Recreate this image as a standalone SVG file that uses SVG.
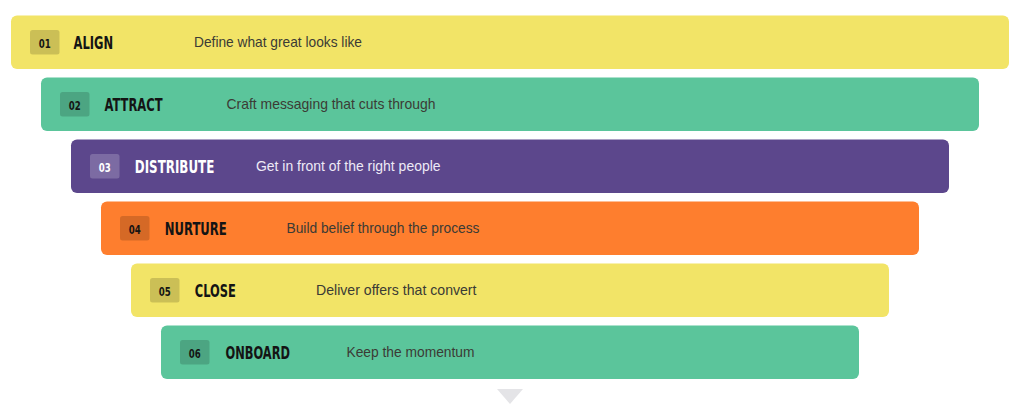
<svg xmlns="http://www.w3.org/2000/svg" width="1024" height="416" viewBox="0 0 1024 416">
<style>
.bar{stroke:none}
.yellow{fill:#f2e467}
.green{fill:#5bc59b}
.purple{fill:#5c478c}
.orange{fill:#fe7e2e}
.badge-d{fill:#000;fill-opacity:0.16}
.badge-l{fill:#fff;fill-opacity:0.2}
.num{font-family:"DejaVu Sans","Liberation Sans",sans-serif;font-stretch:condensed;font-weight:700;font-size:12.5px;text-anchor:middle}
.title{font-family:"DejaVu Sans","Liberation Sans",sans-serif;font-stretch:condensed;font-weight:700;font-size:17.5px}
.desc{font-family:"Liberation Sans","Arimo",sans-serif;font-size:14.5px}
.dark{fill:#141414}
.ddark{fill:#3b3b35}
.light{fill:#ffffff}
.dlight{fill:#eeeaf6}
</style>
<rect width="1024" height="416" fill="#ffffff"/>
<g id="step-01">
<rect class="bar yellow" x="11" y="15.5" width="998" height="53.5" rx="6"/>
<rect class="badge-d" x="30" y="30" width="29.5" height="24.5" rx="2.5"/>
<text class="num dark" x="44.8" y="47.5" textLength="12" lengthAdjust="spacingAndGlyphs">01</text>
<text class="title dark" x="73.5" y="49.3" textLength="39.5" lengthAdjust="spacingAndGlyphs">ALIGN</text>
<text class="desc ddark" x="194" y="47.3" textLength="168" lengthAdjust="spacingAndGlyphs">Define what great looks like</text>
</g>
<g id="step-02">
<rect class="bar green" x="41" y="77.5" width="938" height="53.5" rx="6"/>
<rect class="badge-d" x="60" y="92" width="29.5" height="24.5" rx="2.5"/>
<text class="num dark" x="74.8" y="109.5" textLength="12" lengthAdjust="spacingAndGlyphs">02</text>
<text class="title dark" x="104.5" y="111.3" textLength="58" lengthAdjust="spacingAndGlyphs">ATTRACT</text>
<text class="desc ddark" x="226.5" y="109.3" textLength="209" lengthAdjust="spacingAndGlyphs">Craft messaging that cuts through</text>
</g>
<g id="step-03">
<rect class="bar purple" x="71" y="139.5" width="878" height="53.5" rx="6"/>
<rect class="badge-l" x="90" y="154" width="29.5" height="24.5" rx="2.5"/>
<text class="num light" x="104.8" y="171.5" textLength="12" lengthAdjust="spacingAndGlyphs">03</text>
<text class="title light" x="134.8" y="173.3" textLength="79.5" lengthAdjust="spacingAndGlyphs">DISTRIBUTE</text>
<text class="desc dlight" x="256" y="171.3" textLength="184.5" lengthAdjust="spacingAndGlyphs">Get in front of the right people</text>
</g>
<g id="step-04">
<rect class="bar orange" x="101" y="201.5" width="818" height="53.5" rx="6"/>
<rect class="badge-d" x="120" y="216" width="29.5" height="24.5" rx="2.5"/>
<text class="num dark" x="134.8" y="233.5" textLength="12" lengthAdjust="spacingAndGlyphs">04</text>
<text class="title dark" x="164.8" y="235.3" textLength="62" lengthAdjust="spacingAndGlyphs">NURTURE</text>
<text class="desc ddark" x="286.5" y="233.3" textLength="193" lengthAdjust="spacingAndGlyphs">Build belief through the process</text>
</g>
<g id="step-05">
<rect class="bar yellow" x="131" y="263.5" width="758" height="53.5" rx="6"/>
<rect class="badge-d" x="150" y="278" width="29.5" height="24.5" rx="2.5"/>
<text class="num dark" x="164.8" y="295.5" textLength="12" lengthAdjust="spacingAndGlyphs">05</text>
<text class="title dark" x="194.8" y="297.3" textLength="41" lengthAdjust="spacingAndGlyphs">CLOSE</text>
<text class="desc ddark" x="316" y="295.3" textLength="160.5" lengthAdjust="spacingAndGlyphs">Deliver offers that convert</text>
</g>
<g id="step-06">
<rect class="bar green" x="161" y="325.5" width="698" height="53.5" rx="6"/>
<rect class="badge-d" x="180" y="340" width="29.5" height="24.5" rx="2.5"/>
<text class="num dark" x="194.8" y="357.5" textLength="12" lengthAdjust="spacingAndGlyphs">06</text>
<text class="title dark" x="225.5" y="359.3" textLength="64.5" lengthAdjust="spacingAndGlyphs">ONBOARD</text>
<text class="desc ddark" x="346.5" y="357.3" textLength="128" lengthAdjust="spacingAndGlyphs">Keep the momentum</text>
</g>
<g id="connectors">
<polygon points="497,389 523,389 510,404" fill="#e4e4e7"/>
</g>
</svg>
